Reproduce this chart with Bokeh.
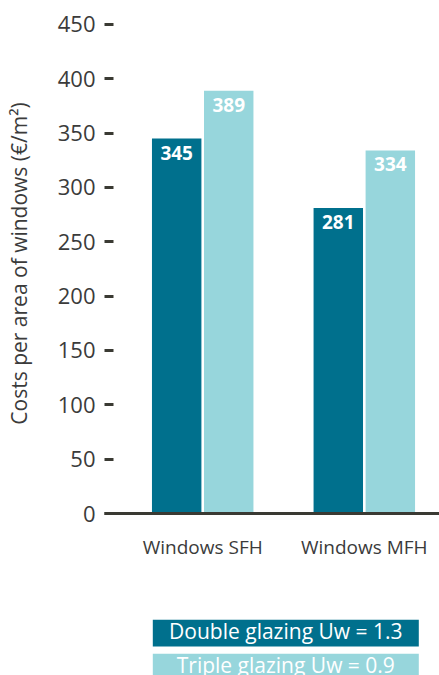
from bokeh.plotting import figure
from bokeh.models import Range1d, FixedTicker, ColumnDataSource
from bokeh.layouts import column
from bokeh.core.properties import value
from bokeh.embed import file_html
from bokeh.resources import INLINE
from bokeh.transform import dodge

# ---- data ----
categories = ["Windows SFH", "Windows MFH"]
series = ["Double glazing Uw = 1.3", "Triple glazing Uw = 0.9"]
double_glazing = [345, 281]
triple_glazing = [389, 334]
y_ticks = [0, 50, 100, 150, 200, 250, 300, 350, 400, 450]
y_label = "Costs per area of windows (€/m²)"
colors = ["#00708D", "#97D6DC"]

FONT = "Open Sans"
TEXT = "#3b3b3b"
AXIS = "#3a3a33"

x_pos = list(range(len(categories)))
src = ColumnDataSource(dict(
    x=x_pos,
    double=double_glazing,
    triple=triple_glazing,
    dl=[str(v) for v in double_glazing],
    tl=[str(v) for v in triple_glazing],
))

p = figure(width=439, height=608,
           x_range=Range1d(-0.6077, 1.4653), y_range=Range1d(0, 460),
           output_backend="svg", toolbar_location=None,
           min_border_left=104, min_border_right=0,
           min_border_top=13, min_border_bottom=95)

bw = 0.306
off = 0.161
p.vbar(x=dodge("x", -off, range=p.x_range), top="double", width=bw, bottom=0,
       source=src, fill_color=colors[0], line_color=None)
p.vbar(x=dodge("x", off, range=p.x_range), top="triple", width=bw, bottom=0,
       source=src, fill_color=colors[1], line_color=None)

for col, lab, dx in (("double", "dl", -off), ("triple", "tl", off)):
    p.text(x=dodge("x", dx, range=p.x_range), y=col, text=lab, source=src,
           text_color="white", text_font=value(FONT), text_font_style="bold",
           text_font_size="19px", text_align="center",
           text_baseline="alphabetic", y_offset=14)

p.xgrid.visible = False
p.ygrid.visible = False
p.outline_line_color = None
p.background_fill_color = "white"
p.border_fill_color = "white"

ya = p.yaxis[0]
ya.ticker = FixedTicker(ticks=y_ticks)
ya.axis_line_color = None
ya.major_tick_in = 9
ya.major_tick_out = 0
ya.major_tick_line_width = 3
ya.major_tick_line_color = AXIS
ya.minor_tick_line_color = None
ya.major_label_text_font = FONT
ya.major_label_text_font_size = "22px"
ya.major_label_text_color = TEXT
ya.major_label_standoff = 9
ya.axis_label = y_label
ya.axis_label_text_font = FONT
ya.axis_label_text_font_size = "21px"
ya.axis_label_text_font_style = "normal"
ya.axis_label_text_color = TEXT
ya.axis_label_standoff = 22

xa = p.xaxis[0]
xa.ticker = FixedTicker(ticks=x_pos)
xa.major_label_overrides = {i: c for i, c in zip(x_pos, categories)}
xa.axis_line_width = 3
xa.axis_line_color = AXIS
xa.major_tick_line_color = None
xa.minor_tick_line_color = None
xa.major_label_text_font = FONT
xa.major_label_text_font_size = "19px"
xa.major_label_text_color = TEXT
xa.major_label_standoff = 14

# ---- legend (separate strip below; its frame aligns with the chart frame) ----
leg = figure(width=439, height=67, x_range=Range1d(104, 439), y_range=Range1d(67, 0),
             x_axis_type=None, y_axis_type=None,
             output_backend="svg", toolbar_location=None, min_border=0)
leg.xgrid.visible = False
leg.ygrid.visible = False
leg.outline_line_color = None

leg_top, leg_step = 24.7, 34
lsrc = ColumnDataSource(dict(
    y=[leg_top + i * leg_step for i in range(len(series))],
    name=series,
    color=colors,
))
leg.rect(x=285.3, y="y", width=266, height=26.7, source=lsrc,
         fill_color="color", line_color=None)
leg.text(x=285.3, y="y", text="name", source=lsrc, text_color="white",
         text_font=value(FONT), text_font_size="21px",
         text_align="center", text_baseline="middle", y_offset=-2)

layout = column(p, leg)
open("out.html", "w").write(file_html(layout, INLINE))
